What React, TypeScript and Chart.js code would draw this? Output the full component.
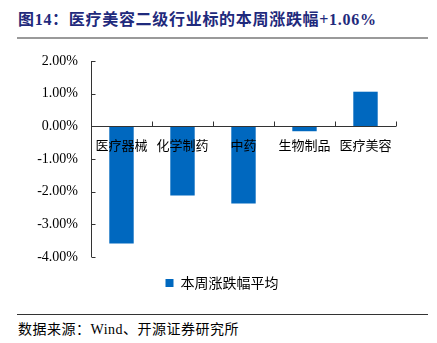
import React, { useEffect, useRef } from "react";
import { Chart, registerables } from "chart.js";

Chart.register(...registerables);

const categories = ["医疗器械", "化学制药", "中药", "生物制品", "医疗美容"];
const weeklyChange = [-3.59, -2.12, -2.36, -0.15, 1.06];
const seriesName = "本周涨跌幅平均";
const yMin = -4;
const yMax = 2;
const yStep = 1;
const titleText = "图14：医疗美容二级行业标的本周涨跌幅+1.06%";
const sourceText = "数据来源：Wind、开源证券研究所";

const BAR_COLOR = "#0068BF";
const AXIS_COLOR = "#333333";

const axisPlugin = {
  id: "customAxes",
  afterDatasetsDraw(chart: any) {
    const { ctx, chartArea, scales } = chart;
    const x = scales.x;
    const y = scales.y;
    const y0 = Math.round(y.getPixelForValue(0)) + 0.5;
    const left = Math.round(chartArea.left) + 0.5;
    ctx.save();
    ctx.strokeStyle = AXIS_COLOR;
    ctx.lineWidth = 1;
    ctx.beginPath();
    ctx.moveTo(left, chartArea.top);
    ctx.lineTo(left, chartArea.bottom);
    for (let v = yMin; v <= yMax; v += yStep) {
      const py = Math.round(y.getPixelForValue(v)) + 0.5;
      ctx.moveTo(left, py);
      ctx.lineTo(left + 4, py);
    }
    ctx.moveTo(chartArea.left, y0);
    ctx.lineTo(chartArea.right, y0);
    for (let i = 0; i <= categories.length; i++) {
      const px = Math.round(x.getPixelForValue(i - 0.5)) + 0.5;
      ctx.moveTo(px, y0);
      ctx.lineTo(px, y0 - 5);
    }
    ctx.stroke();
    ctx.restore();
  },
};

const zeroPad = (scale: any) => {
  scale.paddingTop = 0;
  scale.paddingBottom = 0;
};

export default function App() {
  const ref = useRef<HTMLCanvasElement | null>(null);

  useEffect(() => {
    document.body.style.margin = "0";
    const canvas = ref.current;
    if (!canvas) return;
    const chart = new Chart(canvas, {
      type: "bar",
      data: {
        labels: categories,
        datasets: [
          {
            label: seriesName,
            data: weeklyChange,
            backgroundColor: BAR_COLOR,
            barPercentage: 0.4,
            categoryPercentage: 1,
            yAxisID: "y",
          },
        ],
      },
      options: {
        animation: false,
        responsive: false,
        maintainAspectRatio: false,
        layout: { padding: { top: 16, right: 0, left: 7, bottom: 0 } },
        plugins: {
          legend: {
            position: "bottom",
            labels: {
              boxWidth: 8,
              boxHeight: 8,
              padding: 19,
              color: "#000",
              font: { family: "'Noto Sans CJK SC'", size: 14 },
            },
          },
          tooltip: { enabled: false },
        },
        scales: {
          x: {
            position: { y: 0 } as any,
            grid: { display: false, drawTicks: false },
            border: { display: false },
            afterFit: zeroPad,
            ticks: {
              z: 1,
              padding: 11,
              color: "#000",
              maxRotation: 0,
              autoSkip: false,
              font: { family: "'Noto Sans CJK SC'", size: 13 },
            },
          },
          y: {
            min: yMin,
            max: yMax,
            position: "left",
            grid: { display: false, drawTicks: false },
            border: { display: false },
            afterFit: (scale: any) => {
              scale.width = 84;
              zeroPad(scale);
            },
            ticks: {
              stepSize: yStep,
              padding: 13,
              color: "#000",
              font: { family: "'Liberation Serif'", size: 14 },
              callback: (v: any) => Number(v).toFixed(2) + "%",
            },
          },
          yRight: {
            type: "linear",
            position: "right",
            display: true,
            grid: { display: false, drawTicks: false },
            border: { display: false },
            ticks: { display: false },
            afterFit: (scale: any) => {
              scale.width = 41;
              zeroPad(scale);
            },
          },
        },
      },
      plugins: [axisPlugin],
    });
    return () => chart.destroy();
  }, []);

  return (
    <div style={{ position: "relative", width: 437, height: 343, background: "#fff" }}>
      <div
        style={{
          position: "absolute",
          left: 18,
          top: 10,
          fontFamily: "'Liberation Serif', 'Noto Sans CJK SC'",
          fontWeight: "bold",
          fontSize: 16,
          letterSpacing: 0.7,
          color: "#1F2A7C",
          whiteSpace: "nowrap",
          lineHeight: "20px",
        }}
      >
        {titleText}
      </div>
      <div
        style={{
          position: "absolute",
          left: 17,
          top: 37,
          width: 411,
          height: 2,
          background: "#9a9a9a",
        }}
      />
      <canvas
        ref={ref}
        width={437}
        height={255}
        style={{ position: "absolute", left: 0, top: 45, width: 437, height: 255 }}
      />
      <div
        style={{
          position: "absolute",
          left: 17,
          top: 314,
          width: 411,
          height: 1,
          background: "#333",
        }}
      />
      <div
        style={{
          position: "absolute",
          left: 18,
          top: 321,
          fontFamily: "'Liberation Serif', 'Noto Sans CJK SC'",
          fontSize: 14,
          letterSpacing: 0.5,
          color: "#000",
          whiteSpace: "nowrap",
          lineHeight: "18px",
        }}
      >
        {sourceText}
      </div>
    </div>
  );
}
